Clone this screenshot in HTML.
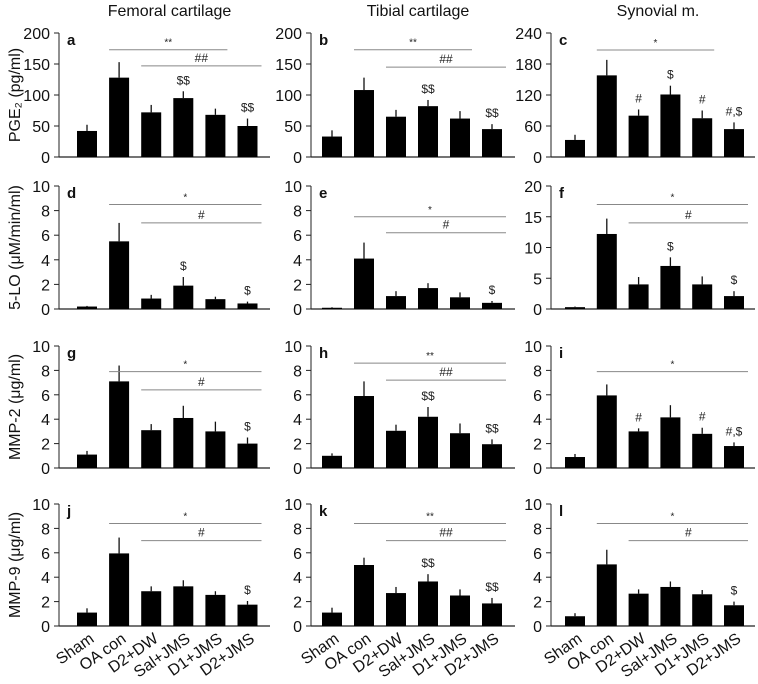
<!DOCTYPE html>
<html><head><meta charset="utf-8"><style>
html,body{margin:0;padding:0;background:#fff;}
svg{display:block;font-family:"Liberation Sans",Arial,sans-serif;}
</style></head><body>
<svg id="fig" width="758" height="684" viewBox="0 0 758 684" xmlns="http://www.w3.org/2000/svg"></svg>
<script>
const categories = ["Sham","OA con","D2+DW","Sal+JMS","D1+JMS","D2+JMS"];
const colTitles = ["Femoral cartilage","Tibial cartilage","Synovial m."];
const rowTitles = ["PGE\u2082 (pg/ml)","5-LO (\u03bcM/min/ml)","MMP-2 (\u03bcg/ml)","MMP-9 (\u03bcg/ml)"];
const panelLetters = ["a","b","c","d","e","f","g","h","i","j","k","l"];
const yMax = [200,200,240,10,10,20,10,10,10,10,10,10];
const yStep = [50,50,60,2,2,5,2,2,2,2,2,2];
const means = [
 [42,128,72,95,68,50],[33,108,65,82,62,45],[33,158,80,121,75,54],
 [0.2,5.5,0.85,1.9,0.8,0.45],[0.1,4.1,1.05,1.7,0.95,0.5],[0.3,12.2,4,7,4,2.1],
 [1.1,7.1,3.1,4.1,3.0,2.0],[1.0,5.9,3.05,4.2,2.85,1.95],[0.9,5.95,3.0,4.15,2.8,1.8],
 [1.1,5.95,2.85,3.25,2.55,1.75],[1.1,5.0,2.7,3.65,2.5,1.85],[0.8,5.05,2.65,3.2,2.6,1.7]];
const errors = [
 [10,25,12,11,10,12],[10,20,11,10,12,8],[10,30,12,17,15,13],
 [0.05,1.5,0.3,0.7,0.2,0.15],[0.05,1.3,0.4,0.4,0.4,0.15],[0.1,2.5,1.2,1.4,1.3,0.8],
 [0.3,1.3,0.5,1.0,0.8,0.5],[0.2,1.2,0.5,0.8,0.8,0.4],[0.25,0.9,0.25,1.0,0.5,0.3],
 [0.35,1.3,0.4,0.5,0.3,0.3],[0.4,0.6,0.5,0.6,0.5,0.45],[0.25,1.2,0.35,0.45,0.35,0.3]];
const barMarks = [
 ["","","","$$","","$$"],["","","","$$","","$$"],["","","#","$","#","#,$"],
 ["","","","$","","$"],["","","","","","$"],["","","","$","","$"],
 ["","","","","","$"],["","","","$$","","$$"],["","","#","","#","#,$"],
 ["","","","","","$"],["","","","$$","","$$"],["","","","","","$"]];
// significance lines: [label, startBar, endBar, yValue]
const sigLines = [
 [["**",1,4,173],["##",2,5,147]],[["**",1,4,173],["##",2,5,145]],[["*",1,4,207]],
 [["*",1,5,8.5],["#",2,5,7.0]],[["*",1,5,7.5],["#",2,5,6.2]],[["*",1,5,17],["#",2,5,14]],
 [["*",1,5,7.9],["#",2,5,6.4]],[["**",1,5,8.6],["##",2,5,7.2]],[["*",1,5,7.9]],
 [["*",1,5,8.4],["#",2,5,7.0]],[["**",1,5,8.4],["##",2,5,7.0]],[["*",1,5,8.4],["#",2,5,7.0]]];

const NS="http://www.w3.org/2000/svg";
const svg=document.getElementById('fig');
function mk(tag,attrs,parent,text){const e=document.createElementNS(NS,tag);for(const k in attrs)e.setAttribute(k,attrs[k]);if(text!==undefined)e.textContent=text;(parent||svg).appendChild(e);return e;}
const colAxisX=[59,311,551], colAxisEnd=[270,515,755], colBar0=[77,322,565], colStep=[32.1,32,31.8];
const rowTop=[33,186,346,504], rowZero=[157,309,468,626];
const BW=20;

colTitles.forEach((t,c)=>{
  const el=mk('text',{x:(colAxisX[c]+colAxisEnd[c])/2+5,y:16,'text-anchor':'middle','font-size':16,fill:'#111'},svg,t);
  
  
});
rowTitles.forEach((t,r)=>{
  const cy=(rowTop[r]+rowZero[r])/2;
  const el=mk('text',{x:0,y:0,transform:`translate(20,${cy}) rotate(-90)`,'text-anchor':'middle','font-size':16,fill:'#111'},svg,t);
  
  
});

for(let p=0;p<12;p++){
  const r=Math.floor(p/3), c=p%3;
  const g=mk('g',{});
  
  
  const top=rowTop[r], zero=rowZero[r], ax=colAxisX[c];
  const yS=v=>zero-(v/yMax[p])*(zero-top);
  const xS=i=>colBar0[c]+i*colStep[c];
  const ya=mk('line',{x1:ax,y1:top,x2:ax,y2:zero,stroke:'#222','stroke-width':1},g);
  
  
  const xa=mk('line',{x1:ax,y1:zero,x2:colAxisEnd[c],y2:zero,stroke:'#222','stroke-width':1.2},g);
  
  
  for(let v=0;v<=yMax[p]+1e-9;v+=yStep[p]){
    const y=yS(v);
    mk('line',{x1:ax-5,y1:y,x2:ax,y2:y,stroke:'#222'},g);
    const tl=mk('text',{x:ax-9,y:y+6,'text-anchor':'end','font-size':16,fill:'#111'},g,String(v));
    
    
  }
  const lt=mk('text',{x:ax+8,y:top+12,'font-size':15,'font-weight':'bold',fill:'#111'},g,panelLetters[p]);
  
  
  means[p].forEach((m,i)=>{
    const x=xS(i), e=errors[p][i];
    const et=mk('line',{x1:x+BW/2,y1:yS(m+e),x2:x+BW/2,y2:yS(m),stroke:'#111','stroke-width':1.3},g);
    
    
    const b=mk('rect',{x:x,y:yS(m),width:BW,height:zero-yS(m),fill:'#000'},g);
    
    
    const s=barMarks[p][i];
    if(s){
      const st=mk('text',{x:x+BW/2,y:yS(m+e)-7,'text-anchor':'middle','font-size':12,fill:'#222'},g,s);
      
      
    }
  });
  sigLines[p].forEach(([lab,s,e,v])=>{
    const y=yS(v), x1=xS(s), x2=xS(e)+BW+(e===5?4:2);
    const ln=mk('line',{x1:x1,y1:y,x2:x2,y2:y,stroke:'#888','stroke-width':1},g);
    
    
    const tx=mk('text',{x:(x1+x2)/2,y:y-4,'text-anchor':'middle','font-size':lab.startsWith('*')?10:12,fill:'#222'},g,lab);
    
    
  });
  if(r===3){
    categories.forEach((cat,i)=>{
      const cx=xS(i)+BW/2+8;
      const t=mk('text',{x:0,y:0,transform:`translate(${cx},${zero+15}) rotate(-35)`,'text-anchor':'end','font-size':16,fill:'#111'},g,cat);
      
      
    });
  }
}
</script>
</body></html>
